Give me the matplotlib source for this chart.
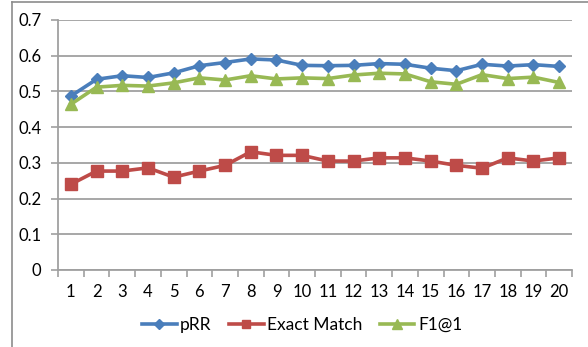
import matplotlib
matplotlib.use("Agg")
import matplotlib.pyplot as plt
from matplotlib.lines import Line2D

categories = [str(i) for i in range(1, 21)]
prr = [0.487, 0.534, 0.544, 0.539, 0.552, 0.572, 0.581, 0.591, 0.588, 0.573,
       0.572, 0.573, 0.578, 0.576, 0.565, 0.558, 0.576, 0.571, 0.575, 0.570]
exact = [0.240, 0.277, 0.277, 0.286, 0.260, 0.277, 0.293, 0.331, 0.321, 0.321,
         0.305, 0.305, 0.314, 0.314, 0.305, 0.293, 0.285, 0.314, 0.305, 0.314]
f1 = [0.464, 0.512, 0.517, 0.515, 0.524, 0.538, 0.532, 0.544, 0.535, 0.538,
      0.536, 0.546, 0.551, 0.549, 0.527, 0.520, 0.547, 0.536, 0.540, 0.525]
yticks = [0, 0.1, 0.2, 0.3, 0.4, 0.5, 0.6, 0.7]
ytick_labels = ["0", "0.1", "0.2", "0.3", "0.4", "0.5", "0.6", "0.7"]

plt.rcParams['font.family'] = ['Lato', 'DejaVu Sans']

W, H = 588, 347
fig = plt.figure(figsize=(W / 100, H / 100), dpi=100)
fig.patch.set_facecolor('white')

# outer chart border (left and top visible)
fig.add_artist(Line2D([12 / W, 12 / W], [0, 1 - 2 / H], color='#8c8c8c', lw=1.2))
fig.add_artist(Line2D([12 / W, 1], [1 - 2 / H, 1 - 2 / H], color='#8c8c8c', lw=1.2))

ax = fig.add_axes([58 / W, 1 - 270 / H, (572 - 58) / W, 250 / H])
x = list(range(len(categories)))

blue = '#4A7EBB'
red = '#BE4B48'
green = '#98B954'

ax.plot(x, prr, color=blue, lw=2.6, marker='D', ms=6.5, label='pRR', zorder=3)
ax.plot(x, exact, color=red, lw=2.6, marker='s', ms=8.5, label='Exact Match', zorder=3)
ax.plot(x, f1, color=green, lw=2.6, marker='^', ms=9, label='F1@1', zorder=3)

ax.set_xlim(-0.5, len(categories) - 0.5)
ax.set_ylim(0, 0.7)
ax.set_yticks(yticks)
ax.set_yticklabels(ytick_labels)
ax.set_xticks(x)
ax.set_xticklabels(categories)
ax.set_xticks([i - 0.5 for i in range(len(categories) + 1)], minor=True)

ax.grid(axis='y', color='#a0a0a0', lw=1.3, zorder=0)
for s in ['top', 'right']:
    ax.spines[s].set_visible(False)
ax.spines['left'].set_color('#a0a0a0')
ax.spines['bottom'].set_color('#a0a0a0')
ax.spines['left'].set_linewidth(1.3)
ax.spines['bottom'].set_linewidth(1.3)
ax.tick_params(axis='y', length=5, width=1.2, color='#a0a0a0', labelsize=12, pad=7)
ax.tick_params(axis='x', which='major', length=0, labelsize=12, pad=10)
ax.tick_params(axis='x', which='minor', length=5, width=1.2, color='#a0a0a0')

fig.legend(loc='center', bbox_to_anchor=(302 / W, 1 - 325 / H), ncol=3, frameon=False,
           fontsize=12.5, handlelength=2.0, columnspacing=1.0, handletextpad=0.2,
           markerscale=0.75)

fig.savefig('out.png', dpi=100, facecolor='white')
